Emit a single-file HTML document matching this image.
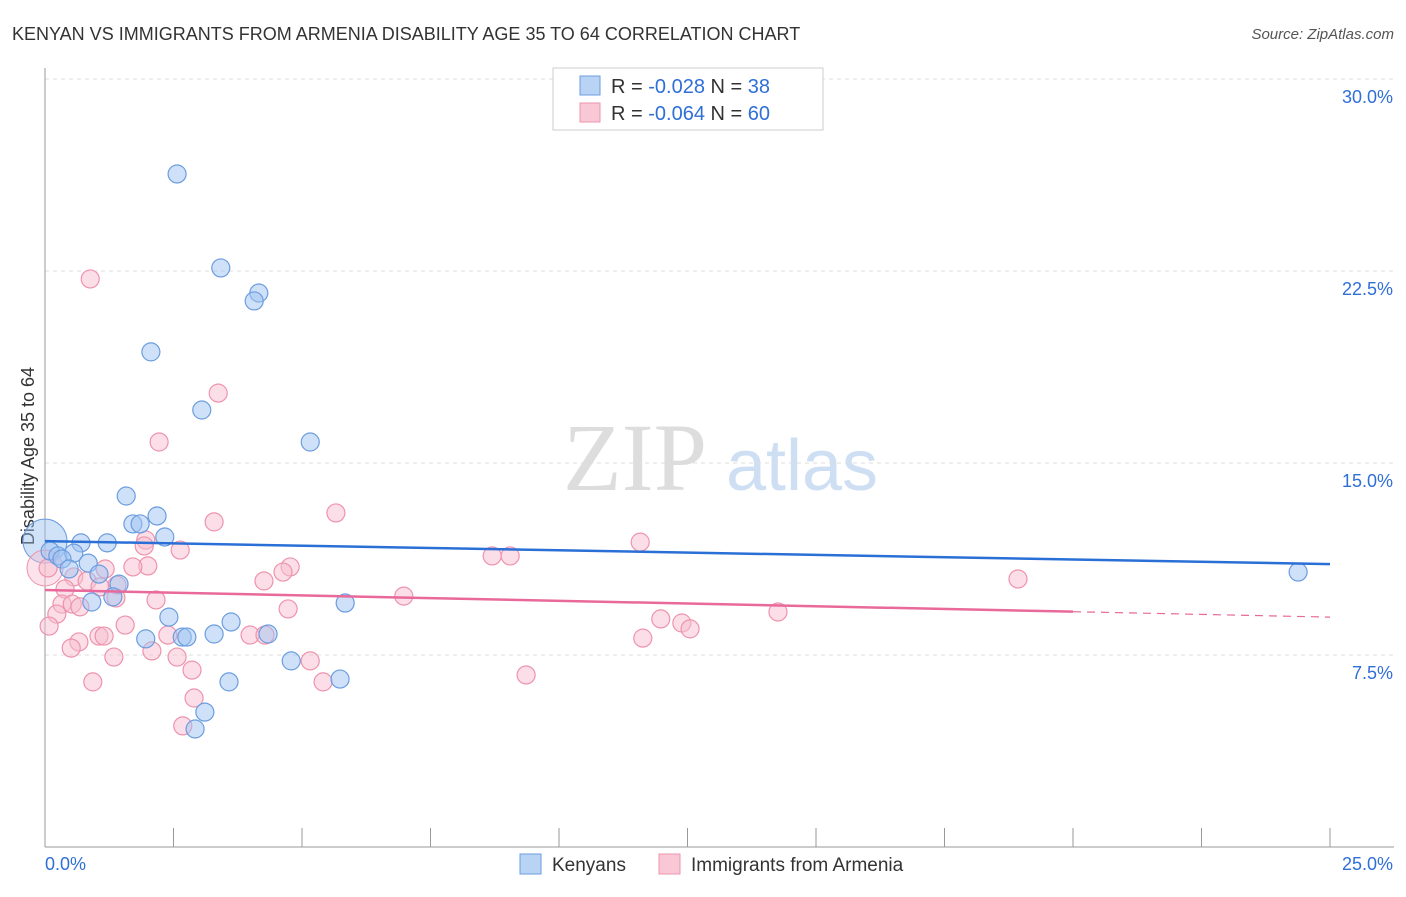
<!DOCTYPE html>
<html><head><meta charset="utf-8"><style>
body{margin:0;background:#fff;font-family:"Liberation Sans",sans-serif;}
svg text{font-family:"Liberation Sans",sans-serif;}
</style></head><body>
<svg id="c" width="1406" height="892">
<text x="12" y="40" font-size="18" fill="#333">KENYAN VS IMMIGRANTS FROM ARMENIA DISABILITY AGE 35 TO 64 CORRELATION CHART</text>
<text x="1394" y="39" font-size="15" fill="#555" text-anchor="end" font-style="italic">Source: ZipAtlas.com</text>
<text x="34" y="456" font-size="18" fill="#333" text-anchor="middle" transform="rotate(-90 34 456)">Disability Age 35 to 64</text>
<g><text x="635" y="490" font-size="96" fill="#ddd" text-anchor="middle" font-family="Liberation Serif" style="font-family:'Liberation Serif',serif">ZIP</text><text x="802" y="490" font-size="72" fill="#cfdff3" text-anchor="middle">atlas</text></g>
<g id="grid"></g><g id="marks"></g>
<g>
<rect x="553" y="68" width="270" height="62" fill="#fff" stroke="#ccc"/>
<rect x="580" y="76" width="20" height="19" fill="#b9d3f5" stroke="#6b9de0"/>
<rect x="580" y="103" width="20" height="19" fill="#f9c8d6" stroke="#ee93ad"/>
<text x="611" y="93" font-size="20" fill="#333">R = <tspan fill="#2f6fd8">-0.028</tspan>   N = <tspan fill="#2f6fd8">38</tspan></text>
<text x="611" y="120" font-size="20" fill="#333">R = <tspan fill="#2f6fd8">-0.064</tspan>   N = <tspan fill="#2f6fd8">60</tspan></text>
</g>
<g>
<rect x="520" y="854" width="21" height="20" fill="#b9d3f5" stroke="#6b9de0"/><text x="552" y="871" font-size="19" fill="#333">Kenyans</text>
<rect x="659" y="854" width="21" height="20" fill="#f9c8d6" stroke="#ee93ad"/><text x="691" y="871" font-size="19" fill="#333">Immigrants from Armenia</text>
</g>
</svg>
<script>
const yTicks=[7.5,15,22.5,30];
const yTickLabels=["7.5%","15.0%","22.5%","30.0%"];
const xLabels=["0.0%","25.0%"];
const kenX=[2.57,3.42,4.16,4.07,2.06,3.05,5.16,1.58,2.18,1.71,1.85,2.33,0.70,1.21,0.10,0.25,0.56,0.33,0.47,0.84,1.05,1.44,1.32,0.91,5.84,2.41,3.62,1.96,2.67,2.76,3.29,4.34,4.79,3.58,5.74,3.11,2.92,24.38];
const kenY=[26.29,22.62,21.64,21.33,19.34,17.07,15.82,13.71,12.93,12.62,12.62,12.11,11.88,11.88,11.56,11.37,11.48,11.25,10.86,11.09,10.66,10.27,9.77,9.57,9.53,8.98,8.79,8.13,8.20,8.20,8.32,8.32,7.27,6.45,6.56,5.27,4.61,10.74];
const armX=[0.88,3.37,2.22,5.66,3.29,11.58,1.96,1.93,2.63,8.70,9.05,0.06,4.77,4.63,2.00,1.71,1.17,0.56,0.82,0.39,1.40,4.26,18.93,6.98,1.07,2.16,0.33,0.53,4.73,1.38,0.23,0.68,0.08,1.56,11.98,12.39,12.55,14.26,1.05,1.15,2.39,3.99,4.28,11.63,0.66,0.51,2.08,1.34,2.57,5.16,2.86,9.36,0.93,5.41,2.90,2.68];
const armY=[22.19,17.73,15.82,13.05,12.70,11.91,11.99,11.76,11.60,11.37,11.37,10.90,10.94,10.74,10.98,10.94,10.86,10.55,10.39,10.08,10.23,10.39,10.47,9.80,10.16,9.65,9.49,9.49,9.30,9.73,9.10,9.38,8.63,8.67,8.91,8.75,8.52,9.18,8.24,8.24,8.28,8.28,8.28,8.16,8.01,7.77,7.66,7.42,7.42,7.27,6.91,6.72,6.45,6.45,5.82,4.73];
const kenTrend=[11.95,11.05];
const armTrend=[10.04,8.98];
const NS="http://www.w3.org/2000/svg";
const sx=v=>45+v/25*1285, sy=v=>847-v/7.5*192;
function mk(t,a,p){const e=document.createElementNS(NS,t);for(const k in a)e.setAttribute(k,a[k]);p.appendChild(e);return e;}
const g=document.getElementById('grid'),m=document.getElementById('marks');
yTicks.forEach((t,i)=>{
 const l=mk('line',{x1:45,x2:1394,y1:sy(t),y2:sy(t),stroke:'#ddd','stroke-dasharray':'4 4'},g);
 
 
 const tx=mk('text',{x:1393,y:sy(t)+24,'font-size':18,fill:'#2f6fd8','text-anchor':'end'},g);tx.textContent=yTickLabels[i];
 
 
});
mk('line',{x1:45,x2:45,y1:68,y2:847,stroke:'#999'},g);
mk('line',{x1:45,x2:1394,y1:847,y2:847,stroke:'#999'},g);
for(let i=0;i<=10;i++){const t=mk('line',{x1:sx(i*2.5),x2:sx(i*2.5),y1:828,y2:847,stroke:'#999'},g);
 
 }
const xl0=mk('text',{x:45,y:870,'font-size':18,fill:'#2f6fd8'},g);xl0.textContent=xLabels[0];


const xl1=mk('text',{x:1393,y:870,'font-size':18,fill:'#2f6fd8','text-anchor':'end'},g);xl1.textContent=xLabels[1];


// big points at origin
const bb=mk('circle',{cx:sx(0),cy:sy(11.95),r:22,fill:'rgba(150,190,240,0.45)',stroke:'#6b9de0'},m);


const bp=mk('circle',{cx:sx(0),cy:sy(10.9),r:18,fill:'rgba(248,190,208,0.45)',stroke:'#ee93ad'},m);


armX.forEach((x,i)=>{const c=mk('circle',{cx:sx(x),cy:sy(armY[i]),r:9,fill:'rgba(248,190,208,0.5)',stroke:'#ee93ad','stroke-width':1.2},m);
 
 });
kenX.forEach((x,i)=>{const c=mk('circle',{cx:sx(x),cy:sy(kenY[i]),r:9,fill:'rgba(160,196,242,0.5)',stroke:'#6b9de0','stroke-width':1.2},m);
 
 });
const kt=mk('line',{x1:sx(0),x2:sx(25),y1:sy(kenTrend[0]),y2:sy(kenTrend[1]),stroke:'#2a6fd6','stroke-width':2.5},m);


const ay=x=>armTrend[0]+(armTrend[1]-armTrend[0])*x/25;
const at=mk('line',{x1:sx(0),x2:sx(20),y1:sy(ay(0)),y2:sy(ay(20)),stroke:'#e8699a','stroke-width':2.5},m);


const ad=mk('line',{x1:sx(20),x2:sx(25),y1:sy(ay(20)),y2:sy(ay(25)),stroke:'#e8699a','stroke-width':1.2,'stroke-dasharray':'8 6'},m);


</script>
</body></html>
